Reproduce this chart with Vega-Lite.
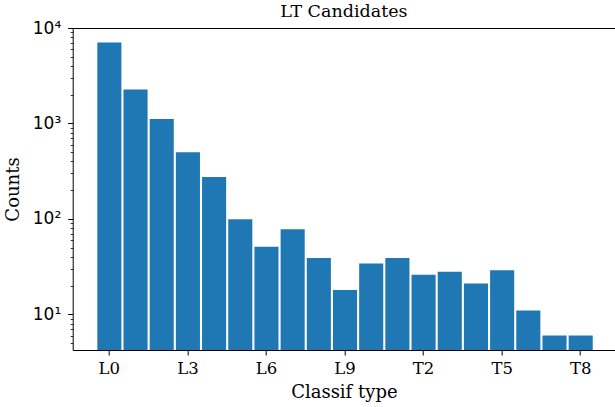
{
  "$schema": "https://vega.github.io/schema/vega-lite/v6.json",
  "width": 542.3,
  "height": 322,
  "autosize": {"type": "none"},
  "padding": {"left": 72.7, "top": 28, "right": 0, "bottom": 57},
  "title": {"text": "LT Candidates", "font": "DejaVu Serif", "fontSize": 17.5, "fontWeight": "normal", "color": "#000000", "offset": 6, "dy": 7},
  "config": {"view": {"stroke": null}},
  "data": {"values": [
    {"type": "L0", "count": 7050},
    {"type": "L1", "count": 2270},
    {"type": "L2", "count": 1110},
    {"type": "L3", "count": 500},
    {"type": "L4", "count": 274},
    {"type": "L5", "count": 99},
    {"type": "L6", "count": 51},
    {"type": "L7", "count": 78},
    {"type": "L8", "count": 39},
    {"type": "L9", "count": 18},
    {"type": "T0", "count": 34},
    {"type": "T1", "count": 39},
    {"type": "T2", "count": 26},
    {"type": "T3", "count": 28},
    {"type": "T4", "count": 21},
    {"type": "T5", "count": 29},
    {"type": "T6", "count": 11},
    {"type": "T7", "count": 6},
    {"type": "T8", "count": 6}
  ]},
  "layer": [
    {
      "mark": {"type": "bar", "color": "#1f77b4", "clip": true},
      "encoding": {
        "x": {"field": "type", "type": "nominal", "sort": null,
          "scale": {"paddingInner": 0.08, "paddingOuter": 0.895, "align": 0.525},
          "axis": {"orient": "bottom", "values": ["L0", "L3", "L6", "L9", "T2", "T5", "T8"], "labelAngle": 0,
            "labelFont": "DejaVu Serif", "labelFontSize": 16.5, "labelColor": "#000000", "labelPadding": 5,
            "tickSize": 5, "tickColor": "#000000", "domainColor": "#000000", "domainWidth": 1,
            "title": "Classif type", "titleFont": "DejaVu Serif", "titleFontSize": 18, "titleFontWeight": "normal", "titleColor": "#000000", "titlePadding": 7}},
        "y": {"field": "count", "type": "quantitative", "stack": null,
          "scale": {"type": "log", "domain": [4.23, 10000], "nice": false},
          "axis": {"orient": "left", "values": [10, 100, 1000, 10000], "grid": false,
            "labelExpr": "'10' + ['⁰','¹','²','³','⁴'][round(log(datum.value)/LN10)]",
            "labelFont": "DejaVu Sans", "labelFontSize": 17, "labelColor": "#000000", "labelPadding": 7,
            "tickSize": 5, "tickColor": "#000000", "domainColor": "#000000", "domainWidth": 1,
            "title": "Counts", "titleFont": "DejaVu Serif", "titleFontSize": 18, "titleFontWeight": "normal", "titleColor": "#000000", "titlePadding": 10}},
        "y2": {"datum": 4.23}
      }
    },
    {
      "mark": {"type": "bar", "opacity": 0},
      "encoding": {
        "x": {"field": "type", "type": "nominal", "sort": null,
          "axis": {"orient": "top", "labels": false, "ticks": false, "title": null, "domainColor": "#000000", "domainWidth": 1.2, "minExtent": 0, "maxExtent": 0}},
        "y": {"field": "count", "type": "quantitative", "stack": null,
          "axis": {"orient": "left", "values": [5, 6, 7, 8, 9, 20, 30, 40, 50, 60, 70, 80, 90, 200, 300, 400, 500, 600, 700, 800, 900, 2000, 3000, 4000, 5000, 6000, 7000, 8000, 9000],
            "labels": false, "domain": false, "grid": false, "title": null, "tickSize": 2.5, "tickColor": "#000000", "tickWidth": 0.8}}
      }
    }
  ],
  "resolve": {"axis": {"x": "independent", "y": "independent"}}
}
